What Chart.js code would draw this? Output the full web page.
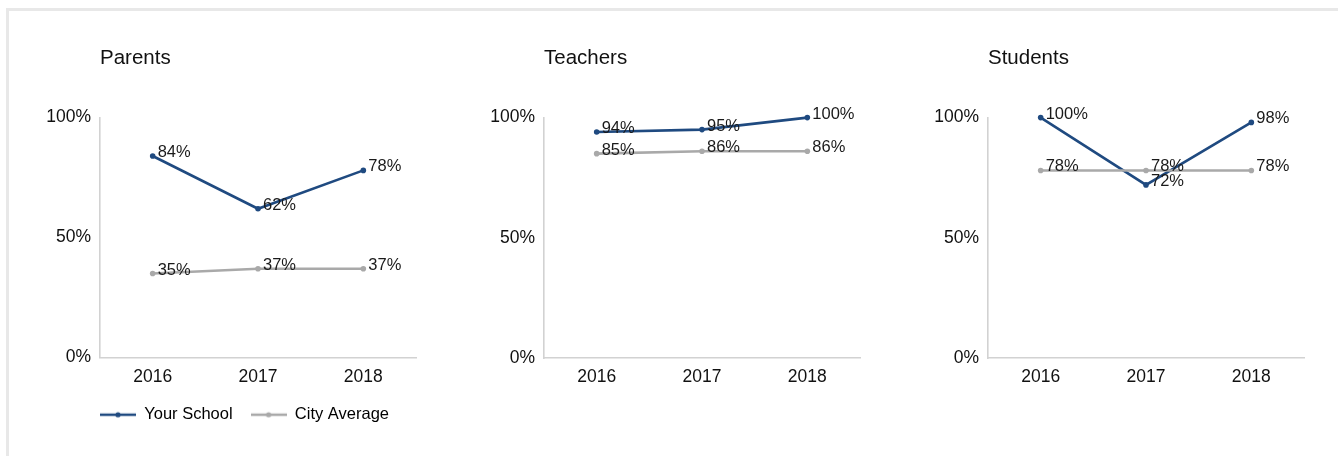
<!DOCTYPE html>
<html>
<head>
<meta charset="utf-8">
<script src="https://cdn.jsdelivr.net/npm/chart.js@4/dist/chart.umd.min.js"></script>
<style>
  html, body { margin: 0; padding: 0; background: #fff; overflow: hidden; }
  body { width: 1338px; height: 456px; position: relative; }
  #frame { position: absolute; left: 6px; top: 8px; width: 1400px; height: 500px;
           border: 3px solid #e8e8e8; box-sizing: border-box; }
  .cw { position: absolute; top: 0; width: 420px; height: 456px; }
</style>
</head>
<body>
<div id="frame"></div>
<div class="cw" style="left:20px"><canvas id="c0"></canvas></div>
<div class="cw" style="left:464px"><canvas id="c1"></canvas></div>
<div class="cw" style="left:908px"><canvas id="c2"></canvas></div>
<script>
const categories = ['2016', '2017', '2018'];
const chartTitles = ['Parents', 'Teachers', 'Students'];
const seriesNames = ['Your School', 'City Average'];
const yourSchool = [
  [84, 62, 78],   // Parents
  [94, 95, 100],  // Teachers
  [100, 72, 98]   // Students
];
const cityAverage = [
  [35, 37, 37],
  [85, 86, 86],
  [78, 78, 78]
];
const yTickValues = [0, 50, 100];

const BLUE = '#1f4a80';
const GRAY = '#a9a9a9';
const FONT = '"Liberation Sans", Arial, Helvetica, sans-serif';

function legendSymbol(color) {
  const c = document.createElement('canvas');
  c.width = 36; c.height = 8;
  const x = c.getContext('2d');
  x.strokeStyle = color; x.lineWidth = 2.5;
  x.beginPath(); x.moveTo(0, 4); x.lineTo(36, 4); x.stroke();
  x.fillStyle = color;
  x.beginPath(); x.arc(18, 4, 2.6, 0, Math.PI * 2); x.fill();
  return c;
}

const valueLabels = {
  id: 'valueLabels',
  afterLayout(chart) {
    // legend starts flush with the y axis line
    if (chart.legend && chart.legend.options.display) {
      const shift = chart.chartArea.left - chart.legend.options.labels.padding - chart.legend.left;
      chart.legend.left += shift;
      chart.legend.right += shift;
    }
  },
  afterDatasetsDraw(chart) {
    const ctx = chart.ctx;
    ctx.save();
    ctx.font = '16.5px ' + FONT;
    ctx.fillStyle = '#1a1a1a';
    ctx.textAlign = 'left';
    ctx.textBaseline = 'alphabetic';
    chart.data.datasets.forEach((ds, i) => {
      const meta = chart.getDatasetMeta(i);
      meta.data.forEach((pt, j) => {
        ctx.fillText(ds.data[j] + '%', pt.x + 5, pt.y + 1);
      });
    });
    ctx.restore();
  }
};

function makeChart(idx) {
  const withLegend = idx === 0;
  const colors = [BLUE, GRAY];
  const ds = [yourSchool[idx], cityAverage[idx]].map((d, k) => ({
    label: seriesNames[k],
    data: d,
    borderColor: colors[k],
    backgroundColor: colors[k],
    pointBackgroundColor: colors[k],
    pointBorderWidth: 0,
    pointRadius: 2.8,
    borderWidth: 2.6,
    tension: 0,
    clip: false
  }));
  new Chart(document.getElementById('c' + idx), {
    type: 'line',
    data: { labels: categories, datasets: ds.reverse() },
    plugins: [valueLabels],
    options: {
      responsive: true,
      maintainAspectRatio: false,
      animation: false,
      devicePixelRatio: 1,
      layout: { padding: { left: 0, right: 24, top: 0, bottom: withLegend ? 23 : 69 } },
      plugins: {
        tooltip: { enabled: false },
        title: {
          display: true,
          text: chartTitles[idx],
          align: 'start',
          fullSize: false,
          color: '#111',
          font: { family: FONT, size: 20.5, weight: 'normal' },
          padding: { top: 46, bottom: 47 }
        },
        legend: {
          display: withLegend,
          position: 'bottom',
          align: 'start',
          fullSize: true,
          reverse: true,
          labels: {
            usePointStyle: true,
            pointStyleWidth: 36,
            padding: 18,
            color: '#111',
            font: { family: FONT, size: 16.5 },
            generateLabels(chart) {
              return chart.data.datasets.map((d, i) => ({
                text: d.label,
                pointStyle: legendSymbol(d.borderColor),
                fillStyle: d.borderColor,
                strokeStyle: d.borderColor,
                lineWidth: 0,
                hidden: false,
                datasetIndex: i
              }));
            }
          }
        }
      },
      scales: {
        x: {
          offset: true,
          afterFit(scale) { scale.height = withLegend ? 31 : 29; },
          grid: { display: false, drawTicks: false },
          border: { display: true, color: '#d2d2d2', width: 1.6 },
          ticks: { color: '#111', padding: 9, font: { family: FONT, size: 17.5 } }
        },
        y: {
          min: 0, max: 100,
          afterFit(scale) { scale.width = 80; },
          afterBuildTicks(scale) { scale.ticks = yTickValues.map(v => ({ value: v })); },
          grid: { display: false, drawTicks: false },
          border: { display: true, color: '#d2d2d2', width: 1.6 },
          ticks: { color: '#111', padding: 9, font: { family: FONT, size: 17.5 },
                   callback: v => v + '%' }
        }
      }
    }
  });
}
[0, 1, 2].forEach(makeChart);
</script>
</body>
</html>
